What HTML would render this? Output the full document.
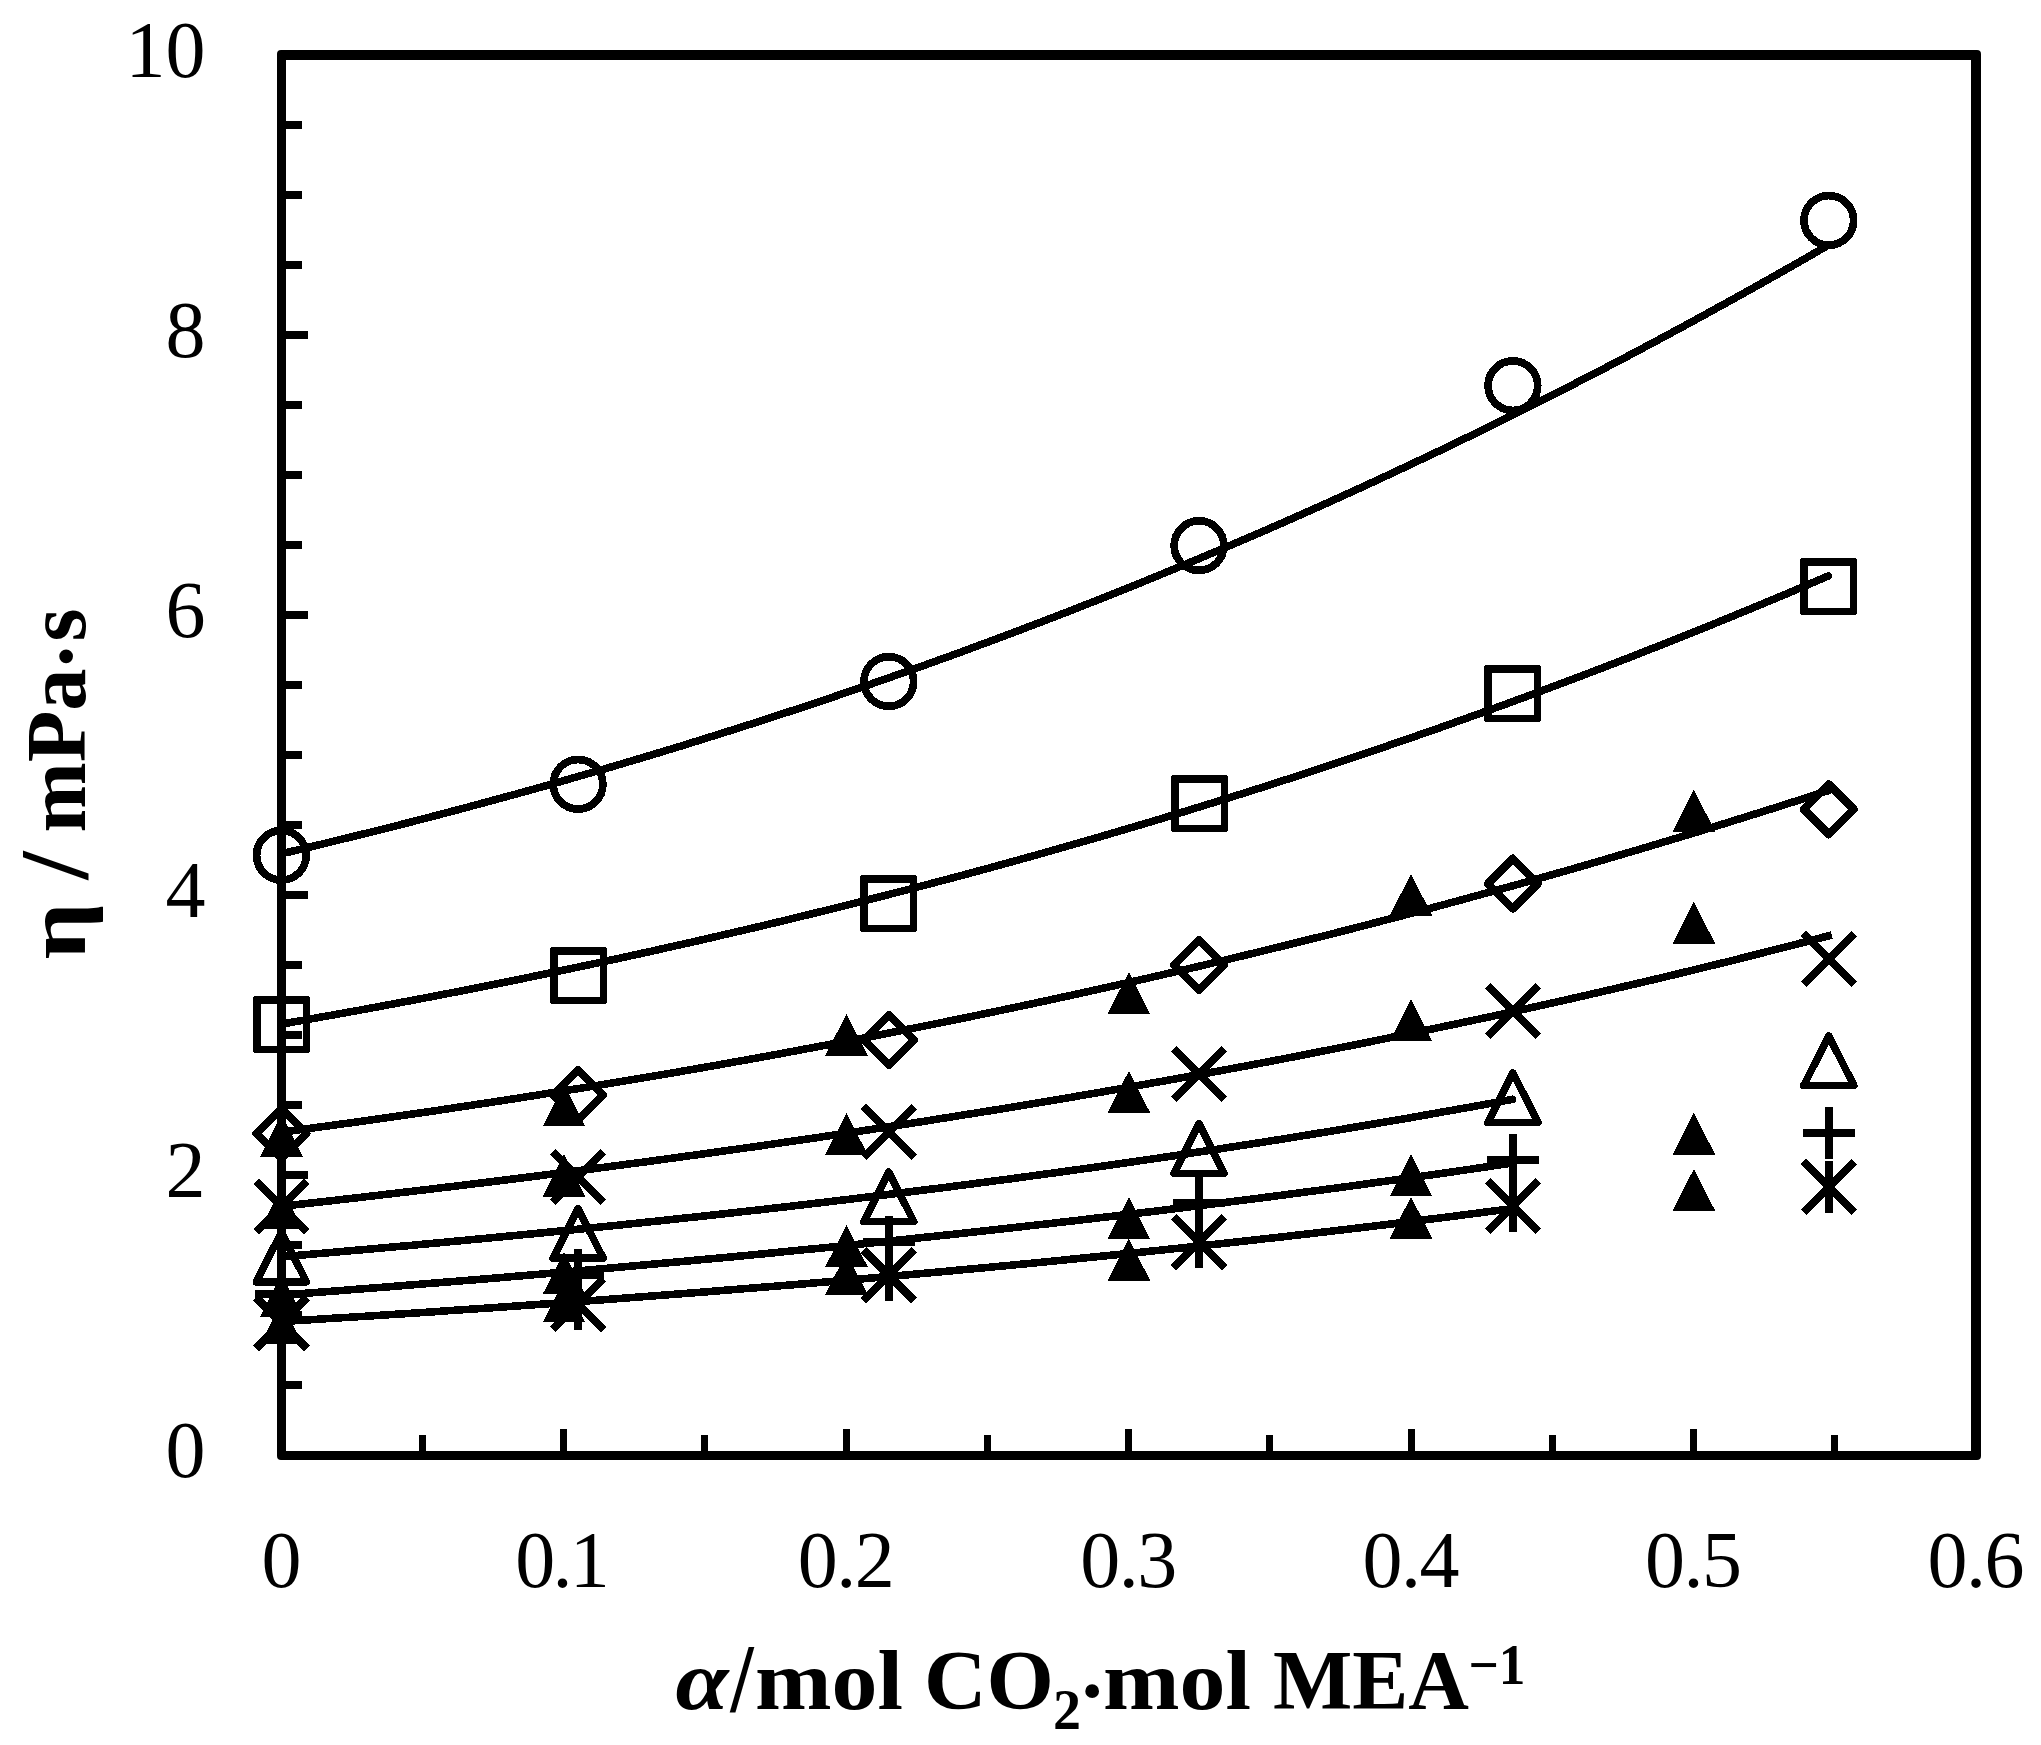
<!DOCTYPE html>
<html lang="en"><head><meta charset="utf-8"><title>Viscosity of CO2-loaded MEA solutions</title>
<style>html,body{margin:0;padding:0;background:#fff}body{width:2041px;height:1745px;overflow:hidden}svg{display:block}text{font-family:"Liberation Serif",serif;fill:#000}.b{font-weight:bold}.i{font-style:italic}</style></head><body>
<svg width="2041" height="1745" viewBox="0 0 2041 1745">
<rect x="0" y="0" width="2041" height="1745" fill="#fff"/>
<path fill="#000" fill-rule="evenodd" d="M281 50H1977Q1981 50 1981 54V1456Q1981 1460 1977 1460H281Q277 1460 277 1456V54Q277 50 281 50ZM286 60V1451H1971V60Z"/>
<g fill="#000" shape-rendering="crispEdges">
<rect x="286" y="1381" width="16" height="8"/>
<rect x="286" y="1311" width="16" height="8"/>
<rect x="286" y="1241" width="16" height="8"/>
<rect x="286" y="1171" width="22" height="8"/>
<rect x="286" y="1101" width="16" height="8"/>
<rect x="286" y="1031" width="16" height="8"/>
<rect x="286" y="961" width="16" height="8"/>
<rect x="286" y="891" width="22" height="8"/>
<rect x="286" y="821" width="16" height="8"/>
<rect x="286" y="751" width="16" height="8"/>
<rect x="286" y="681" width="16" height="8"/>
<rect x="286" y="611" width="22" height="8"/>
<rect x="286" y="541" width="16" height="8"/>
<rect x="286" y="471" width="16" height="8"/>
<rect x="286" y="401" width="16" height="8"/>
<rect x="286" y="331" width="22" height="8"/>
<rect x="286" y="261" width="16" height="8"/>
<rect x="286" y="191" width="16" height="8"/>
<rect x="286" y="121" width="16" height="8"/>
<rect x="419" y="1435" width="7" height="16"/>
<rect x="560" y="1429" width="7" height="22"/>
<rect x="701" y="1435" width="7" height="16"/>
<rect x="843" y="1429" width="7" height="22"/>
<rect x="984" y="1435" width="7" height="16"/>
<rect x="1125" y="1429" width="7" height="22"/>
<rect x="1266" y="1435" width="7" height="16"/>
<rect x="1408" y="1429" width="7" height="22"/>
<rect x="1549" y="1435" width="7" height="16"/>
<rect x="1690" y="1429" width="7" height="22"/>
<rect x="1831" y="1435" width="7" height="16"/>
</g>
<g font-size="80">
<text x="205.6" y="1477.4" text-anchor="end">0</text>
<text x="205.6" y="1197.4" text-anchor="end">2</text>
<text x="205.6" y="917.4" text-anchor="end">4</text>
<text x="205.6" y="637.4" text-anchor="end">6</text>
<text x="205.6" y="357.4" text-anchor="end">8</text>
<text x="205.6" y="77.4" text-anchor="end">10</text>
<text x="281.4" y="1587.2" text-anchor="middle">0</text>
<text x="562.6" y="1587.2" text-anchor="middle" textLength="94.5" lengthAdjust="spacing">0.1</text>
<text x="846.2" y="1587.2" text-anchor="middle" textLength="97" lengthAdjust="spacing">0.2</text>
<text x="1128.65" y="1587.2" text-anchor="middle" textLength="97" lengthAdjust="spacing">0.3</text>
<text x="1411.1" y="1587.2" text-anchor="middle" textLength="97" lengthAdjust="spacing">0.4</text>
<text x="1693.55" y="1587.2" text-anchor="middle" textLength="97" lengthAdjust="spacing">0.5</text>
<text x="1976" y="1587.2" text-anchor="middle" textLength="97" lengthAdjust="spacing">0.6</text>
</g>
<g class="b" font-size="85">
<text id="xtitle"><tspan class="b i" x="675.5" y="1709.4" textLength="53" lengthAdjust="spacingAndGlyphs">α</tspan><tspan x="730.4" y="1710.5" font-size="98" textLength="23" lengthAdjust="spacingAndGlyphs">/</tspan><tspan x="755" y="1708.6" textLength="148" lengthAdjust="spacingAndGlyphs">mol</tspan><tspan x="905" y="1708.6"> </tspan><tspan x="924" y="1708.6" textLength="130" lengthAdjust="spacingAndGlyphs">CO</tspan><tspan x="1053" y="1729" font-size="56">2</tspan><tspan x="1078" y="1718.5">·</tspan><tspan x="1103" y="1708.6" textLength="148" lengthAdjust="spacingAndGlyphs">mol</tspan><tspan x="1252" y="1708.6"> </tspan><tspan x="1273" y="1708.6" textLength="196" lengthAdjust="spacingAndGlyphs">MEA</tspan><tspan x="1468.5" y="1684.2" font-size="57" textLength="57" lengthAdjust="spacingAndGlyphs">−1</tspan></text>
<text id="ytitle" transform="translate(85,958) rotate(-90)"><tspan x="-1.5" y="0" textLength="57" lengthAdjust="spacingAndGlyphs">η</tspan><tspan x="60" y="0"> </tspan><tspan x="78.5" y="1.5" font-size="98" textLength="28" lengthAdjust="spacingAndGlyphs">/</tspan><tspan x="110" y="0"> </tspan><tspan x="125.5" y="0" textLength="164" lengthAdjust="spacingAndGlyphs">mPa</tspan><tspan x="287.5" y="9">·</tspan><tspan x="316.5" y="0">s</tspan></text>
</g>
<g fill="none" stroke="#000" stroke-width="7.6" stroke-linecap="round" stroke-linejoin="round" shape-rendering="crispEdges">
<polyline points="281.4,853.8 307.6,847.6 333.8,841.2 360.0,834.8 386.3,828.3 412.5,821.6 438.7,814.8 464.9,807.9 491.1,800.8 517.3,793.7 543.6,786.4 569.8,778.9 596.0,771.4 622.2,763.7 648.4,755.9 674.6,748.0 700.8,739.9 727.1,731.6 753.3,723.3 779.5,714.8 805.7,706.2 831.9,697.4 858.1,688.5 884.3,679.4 910.6,670.2 936.8,660.8 963.0,651.3 989.2,641.6 1015.4,631.8 1041.6,621.8 1067.9,611.7 1094.1,601.4 1120.3,591.0 1146.5,580.4 1172.7,569.6 1198.9,558.7 1225.1,547.6 1251.4,536.4 1277.6,525.0 1303.8,513.4 1330.0,501.7 1356.2,489.8 1382.4,477.7 1408.6,465.4 1434.9,453.0 1461.1,440.4 1487.3,427.6 1513.5,414.7 1539.7,401.5 1565.9,388.2 1592.2,374.7 1618.4,361.1 1644.6,347.2 1670.8,333.2 1697.0,319.0 1723.2,304.6 1749.4,290.1 1775.7,275.3 1801.9,260.4 1828.1,245.3"/>
<polyline points="281.4,1024.1 307.6,1019.5 333.8,1014.8 360.0,1010.1 386.3,1005.2 412.5,1000.3 438.7,995.3 464.9,990.2 491.1,985.0 517.3,979.7 543.6,974.3 569.8,968.8 596.0,963.3 622.2,957.6 648.4,951.9 674.6,946.0 700.8,940.1 727.1,934.0 753.3,927.9 779.5,921.7 805.7,915.3 831.9,908.9 858.1,902.3 884.3,895.7 910.6,888.9 936.8,882.0 963.0,875.1 989.2,868.0 1015.4,860.8 1041.6,853.5 1067.9,846.0 1094.1,838.5 1120.3,830.8 1146.5,823.1 1172.7,815.2 1198.9,807.1 1225.1,799.0 1251.4,790.8 1277.6,782.4 1303.8,773.9 1330.0,765.3 1356.2,756.5 1382.4,747.6 1408.6,738.6 1434.9,729.5 1461.1,720.2 1487.3,710.8 1513.5,701.3 1539.7,691.6 1565.9,681.8 1592.2,671.8 1618.4,661.8 1644.6,651.5 1670.8,641.2 1697.0,630.7 1723.2,620.1 1749.4,609.3 1775.7,598.4 1801.9,587.3 1828.1,576.1"/>
<polyline points="281.4,1132.2 307.6,1128.7 333.9,1125.1 360.1,1121.5 386.3,1117.8 412.5,1114.0 438.8,1110.2 465.0,1106.2 491.2,1102.3 517.5,1098.2 543.7,1094.1 569.9,1089.9 596.2,1085.7 622.4,1081.3 648.6,1076.9 674.8,1072.5 701.1,1067.9 727.3,1063.3 753.5,1058.6 779.8,1053.8 806.0,1048.9 832.2,1044.0 858.4,1039.0 884.7,1033.9 910.9,1028.7 937.1,1023.5 963.4,1018.1 989.6,1012.7 1015.8,1007.2 1042.1,1001.6 1068.3,995.9 1094.5,990.1 1120.7,984.3 1147.0,978.3 1173.2,972.3 1199.4,966.2 1225.7,959.9 1251.9,953.6 1278.1,947.2 1304.3,940.7 1330.6,934.2 1356.8,927.5 1383.0,920.7 1409.3,913.8 1435.5,906.9 1461.7,899.8 1488.0,892.6 1514.2,885.4 1540.4,878.0 1566.6,870.6 1592.9,863.0 1619.1,855.3 1645.3,847.6 1671.6,839.7 1697.8,831.8 1724.0,823.7 1750.2,815.5 1776.5,807.3 1802.7,798.9 1828.9,790.4"/>
<polyline stroke-linecap="butt" points="281.4,1206.3 307.7,1203.4 334.0,1200.4 360.2,1197.4 386.5,1194.3 412.8,1191.2 439.1,1188.1 465.3,1184.9 491.6,1181.7 517.9,1178.4 544.2,1175.1 570.5,1171.7 596.7,1168.3 623.0,1164.8 649.3,1161.3 675.6,1157.7 701.8,1154.1 728.1,1150.4 754.4,1146.7 780.7,1142.9 806.9,1139.1 833.2,1135.2 859.5,1131.2 885.8,1127.2 912.1,1123.2 938.3,1119.0 964.6,1114.8 990.9,1110.6 1017.2,1106.3 1043.4,1101.9 1069.7,1097.5 1096.0,1093.0 1122.3,1088.4 1148.6,1083.7 1174.8,1079.0 1201.1,1074.3 1227.4,1069.4 1253.7,1064.5 1279.9,1059.5 1306.2,1054.4 1332.5,1049.2 1358.8,1044.0 1385.0,1038.7 1411.3,1033.3 1437.6,1027.8 1463.9,1022.3 1490.2,1016.7 1516.4,1010.9 1542.7,1005.1 1569.0,999.2 1595.3,993.2 1621.5,987.1 1647.8,981.0 1674.1,974.7 1700.4,968.3 1726.7,961.9 1752.9,955.3 1779.2,948.6 1805.5,941.9 1831.8,935.0"/>
<polyline points="281.4,1256.7 302.3,1255.0 323.1,1253.2 344.0,1251.3 364.9,1249.5 385.7,1247.6 406.6,1245.8 427.5,1243.8 448.3,1241.9 469.2,1239.9 490.0,1237.9 510.9,1235.9 531.8,1233.9 552.6,1231.8 573.5,1229.7 594.4,1227.6 615.2,1225.5 636.1,1223.3 657.0,1221.1 677.8,1218.8 698.7,1216.6 719.6,1214.3 740.4,1211.9 761.3,1209.6 782.1,1207.2 803.0,1204.8 823.9,1202.3 844.7,1199.8 865.6,1197.3 886.5,1194.7 907.3,1192.1 928.2,1189.5 949.1,1186.9 969.9,1184.2 990.8,1181.4 1011.7,1178.7 1032.5,1175.8 1053.4,1173.0 1074.2,1170.1 1095.1,1167.2 1116.0,1164.2 1136.8,1161.2 1157.7,1158.2 1178.6,1155.1 1199.4,1151.9 1220.3,1148.8 1241.2,1145.5 1262.0,1142.3 1282.9,1139.0 1303.8,1135.6 1324.6,1132.2 1345.5,1128.7 1366.3,1125.2 1387.2,1121.7 1408.1,1118.1 1428.9,1114.4 1449.8,1110.7 1470.7,1107.0 1491.5,1103.2 1512.4,1099.3"/>
<polyline points="281.4,1295.0 302.3,1293.5 323.2,1291.9 344.0,1290.3 364.9,1288.6 385.8,1287.0 406.7,1285.3 427.5,1283.6 448.4,1281.9 469.3,1280.2 490.2,1278.5 511.0,1276.7 531.9,1274.9 552.8,1273.1 573.7,1271.3 594.5,1269.5 615.4,1267.6 636.3,1265.7 657.2,1263.8 678.0,1261.9 698.9,1259.9 719.8,1258.0 740.7,1256.0 761.6,1254.0 782.4,1251.9 803.3,1249.8 824.2,1247.8 845.1,1245.6 865.9,1243.5 886.8,1241.3 907.7,1239.1 928.6,1236.9 949.4,1234.7 970.3,1232.4 991.2,1230.1 1012.1,1227.8 1032.9,1225.4 1053.8,1223.1 1074.7,1220.7 1095.6,1218.2 1116.5,1215.8 1137.3,1213.3 1158.2,1210.8 1179.1,1208.2 1200.0,1205.6 1220.8,1203.0 1241.7,1200.4 1262.6,1197.7 1283.5,1195.0 1304.3,1192.2 1325.2,1189.5 1346.1,1186.7 1367.0,1183.8 1387.8,1180.9 1408.7,1178.0 1429.6,1175.1 1450.5,1172.1 1471.3,1169.1 1492.2,1166.0 1513.1,1163.0"/>
<polyline points="281.4,1321.5 302.3,1320.3 323.2,1318.9 344.0,1317.6 364.9,1316.3 385.8,1314.9 406.7,1313.6 427.5,1312.2 448.4,1310.7 469.3,1309.3 490.2,1307.9 511.0,1306.4 531.9,1304.9 552.8,1303.4 573.7,1301.9 594.5,1300.4 615.4,1298.8 636.3,1297.2 657.2,1295.6 678.0,1294.0 698.9,1292.4 719.8,1290.7 740.7,1289.0 761.6,1287.3 782.4,1285.6 803.3,1283.9 824.2,1282.1 845.1,1280.3 865.9,1278.5 886.8,1276.6 907.7,1274.8 928.6,1272.9 949.4,1271.0 970.3,1269.0 991.2,1267.1 1012.1,1265.1 1032.9,1263.1 1053.8,1261.0 1074.7,1258.9 1095.6,1256.8 1116.5,1254.7 1137.3,1252.6 1158.2,1250.4 1179.1,1248.2 1200.0,1245.9 1220.8,1243.7 1241.7,1241.4 1262.6,1239.0 1283.5,1236.7 1304.3,1234.3 1325.2,1231.9 1346.1,1229.4 1367.0,1226.9 1387.8,1224.4 1408.7,1221.8 1429.6,1219.2 1450.5,1216.6 1471.3,1213.9 1492.2,1211.2 1513.1,1208.5"/>
</g>
<g fill="none" stroke="#000" stroke-width="7.5" stroke-linejoin="round" shape-rendering="crispEdges">
<circle cx="281.4" cy="855.3" r="24.8" stroke-width="7.75"/>
<circle cx="578.1" cy="784.3" r="24.8" stroke-width="7.75"/>
<circle cx="888.8" cy="681.5" r="24.8" stroke-width="7.75"/>
<circle cx="1199" cy="545.6" r="24.8" stroke-width="7.75"/>
<circle cx="1512.9" cy="385.7" r="24.8" stroke-width="7.75"/>
<circle cx="1828.8" cy="220.4" r="24.8" stroke-width="7.75"/>
<path fill="#000" fill-rule="evenodd" stroke="none" d="M256 996h51q3 0 3 3v51q0 3 -3 3h-51q-3 0 -3 -3v-51q0 -3 3 -3zM261 1004h42v42h-42z"/>
<path fill="#000" fill-rule="evenodd" stroke="none" d="M553 947h51q3 0 3 3v51q0 3 -3 3h-51q-3 0 -3 -3v-51q0 -3 3 -3zM558 955h42v42h-42z"/>
<path fill="#000" fill-rule="evenodd" stroke="none" d="M863 875h51q3 0 3 3v51q0 3 -3 3h-51q-3 0 -3 -3v-51q0 -3 3 -3zM868 883h42v42h-42z"/>
<path fill="#000" fill-rule="evenodd" stroke="none" d="M1174 775h51q3 0 3 3v51q0 3 -3 3h-51q-3 0 -3 -3v-51q0 -3 3 -3zM1179 783h42v42h-42z"/>
<path fill="#000" fill-rule="evenodd" stroke="none" d="M1487 665h51q3 0 3 3v51q0 3 -3 3h-51q-3 0 -3 -3v-51q0 -3 3 -3zM1492 673h42v42h-42z"/>
<path fill="#000" fill-rule="evenodd" stroke="none" d="M1803 558h51q3 0 3 3v51q0 3 -3 3h-51q-3 0 -3 -3v-51q0 -3 3 -3zM1808 566h42v42h-42z"/>
<path stroke-width="8" d="M281.4 1108.3L306.4 1133.3L281.4 1158.3L256.4 1133.3Z"/>
<path stroke-width="8" d="M578.1 1070L603.1 1095L578.1 1120L553.1 1095Z"/>
<path stroke-width="8" d="M888.8 1014.9L913.8 1039.9L888.8 1064.9L863.8 1039.9Z"/>
<path stroke-width="8" d="M1199 940.1L1224 965.1L1199 990.1L1174 965.1Z"/>
<path stroke-width="8" d="M1512.9 858.6L1537.9 883.6L1512.9 908.6L1487.9 883.6Z"/>
<path stroke-width="8" d="M1828.8 784.4L1853.8 809.4L1828.8 834.4L1803.8 809.4Z"/>
<path stroke-width="8" d="M256 1181.1L306.8 1231.9M256 1231.9L306.8 1181.1"/>
<path stroke-width="8" d="M552.7 1151.7L603.5 1202.5M552.7 1202.5L603.5 1151.7"/>
<path stroke-width="8" d="M863.4 1106.6L914.2 1157.4M863.4 1157.4L914.2 1106.6"/>
<path stroke-width="8" d="M1173.6 1048.6L1224.4 1099.4M1173.6 1099.4L1224.4 1048.6"/>
<path stroke-width="8" d="M1487.5 985.6L1538.3 1036.4M1487.5 1036.4L1538.3 985.6"/>
<path stroke-width="8" d="M1803.4 933.5L1854.2 984.3M1803.4 984.3L1854.2 933.5"/>
<path d="M281.4 1232.3L306.5 1281.9L256.3 1281.9Z"/>
<path d="M578.1 1208.6L603.2 1258.2L553 1258.2Z"/>
<path d="M888.8 1172.1L913.9 1221.7L863.7 1221.7Z"/>
<path d="M1199 1123.8L1224.1 1173.4L1173.9 1173.4Z"/>
<path d="M1512.9 1072.9L1538 1122.5L1487.8 1122.5Z"/>
<path d="M1828.8 1035.9L1853.9 1085.5L1803.7 1085.5Z"/>
</g>
<g fill="none" stroke="#000" stroke-width="8" shape-rendering="crispEdges">
<path d="M255.4 1293.6L307.4 1293.6M281.4 1267.6L281.4 1319.6"/>
<path d="M552.1 1274.8L604.1 1274.8M578.1 1248.8L578.1 1300.8"/>
<path d="M862.8 1242.3L914.8 1242.3M888.8 1216.3L888.8 1268.3"/>
<path d="M1173 1202.8L1225 1202.8M1199 1176.8L1199 1228.8"/>
<path d="M1486.9 1160.2L1538.9 1160.2M1512.9 1134.2L1512.9 1186.2"/>
<path d="M1802.8 1132.9L1854.8 1132.9M1828.8 1106.9L1828.8 1158.9"/>
</g>
<g fill="none" stroke="#000" shape-rendering="crispEdges">
<path stroke-width="8" d="M256 1297.6L306.8 1348.4M256 1348.4L306.8 1297.6"/>
<path stroke-width="8" d="M281.4 1297L281.4 1349"/>
<path stroke-width="8" d="M552.7 1278.8L603.5 1329.6M552.7 1329.6L603.5 1278.8"/>
<path stroke-width="8" d="M578.1 1278.2L578.1 1330.2"/>
<path stroke-width="8" d="M863.4 1250L914.2 1300.8M863.4 1300.8L914.2 1250"/>
<path stroke-width="8" d="M888.8 1249.4L888.8 1301.4"/>
<path stroke-width="8" d="M1173.6 1216.9L1224.4 1267.7M1173.6 1267.7L1224.4 1216.9"/>
<path stroke-width="8" d="M1199 1216.3L1199 1268.3"/>
<path stroke-width="8" d="M1487.5 1180.6L1538.3 1231.4M1487.5 1231.4L1538.3 1180.6"/>
<path stroke-width="8" d="M1512.9 1180L1512.9 1232"/>
<path stroke-width="8" d="M1803.4 1161.5L1854.2 1212.3M1803.4 1212.3L1854.2 1161.5"/>
<path stroke-width="8" d="M1828.8 1160.9L1828.8 1212.9"/>
</g>
<g fill="#000" stroke="none" shape-rendering="crispEdges">
<path d="M281.5 1114.5L302.8 1156.5L260.2 1156.5Z"/>
<path d="M564 1084.2L585.3 1126.2L542.7 1126.2Z"/>
<path d="M846.5 1013.8L867.8 1055.8L825.2 1055.8Z"/>
<path d="M1128.9 972L1150.2 1014L1107.6 1014Z"/>
<path d="M1411 873.8L1432.3 915.8L1389.7 915.8Z"/>
<path d="M1693.9 789.6L1715.2 831.6L1672.6 831.6Z"/>
<path d="M281.5 1187L302.8 1229L260.2 1229Z"/>
<path d="M564 1154.5L585.3 1196.5L542.7 1196.5Z"/>
<path d="M846.5 1112.9L867.8 1154.9L825.2 1154.9Z"/>
<path d="M1128.9 1070.8L1150.2 1112.8L1107.6 1112.8Z"/>
<path d="M1411 999.4L1432.3 1041.4L1389.7 1041.4Z"/>
<path d="M1693.9 901.7L1715.2 943.7L1672.6 943.7Z"/>
<path d="M281.5 1274.5L302.8 1316.5L260.2 1316.5Z"/>
<path d="M564 1252.1L585.3 1294.1L542.7 1294.1Z"/>
<path d="M846.5 1225L867.8 1267L825.2 1267Z"/>
<path d="M1128.9 1197L1150.2 1239L1107.6 1239Z"/>
<path d="M1411 1154.3L1432.3 1196.3L1389.7 1196.3Z"/>
<path d="M1693.9 1112.7L1715.2 1154.7L1672.6 1154.7Z"/>
<path d="M281.5 1302L302.8 1344L260.2 1344Z"/>
<path d="M564 1280.2L585.3 1322.2L542.7 1322.2Z"/>
<path d="M846.5 1252.8L867.8 1294.8L825.2 1294.8Z"/>
<path d="M1128.9 1238.7L1150.2 1280.7L1107.6 1280.7Z"/>
<path d="M1411 1196.7L1432.3 1238.7L1389.7 1238.7Z"/>
<path d="M1693.9 1168.8L1715.2 1210.8L1672.6 1210.8Z"/>
</g>
</svg></body></html>
